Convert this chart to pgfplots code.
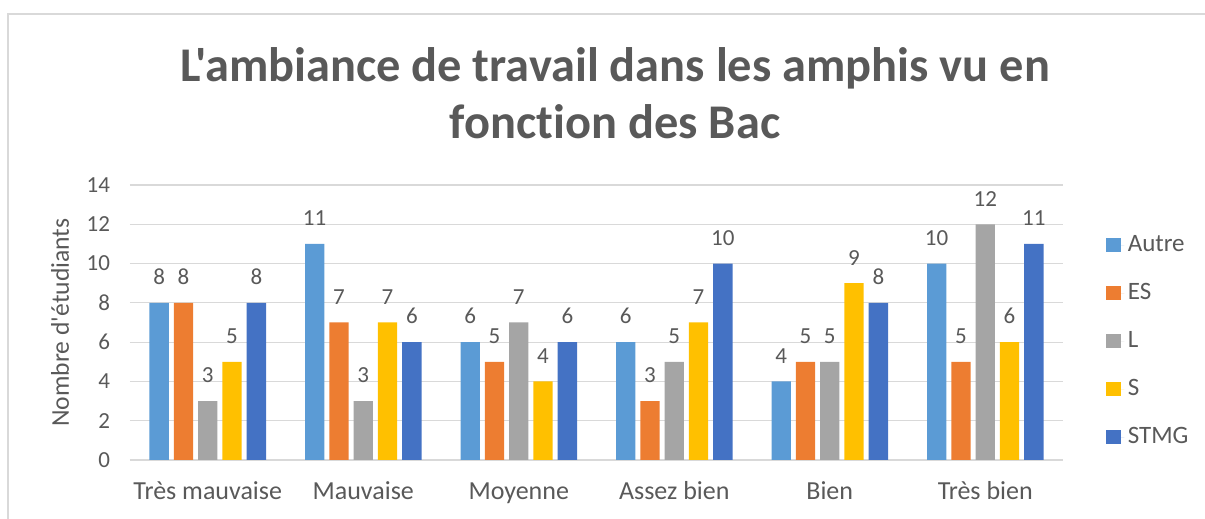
\documentclass[border=0pt]{standalone}
\usepackage{pgfplots}
\pgfplotsset{compat=1.18}
\usepackage{fontspec}
\setmainfont{Carlito}[Ligatures={TeXOff,NoCommon}]
\definecolor{txt}{HTML}{595959}
\definecolor{cAutre}{HTML}{5B9BD5}
\definecolor{cES}{HTML}{ED7D31}
\definecolor{cL}{HTML}{A5A5A5}
\definecolor{cS}{HTML}{FFC000}
\definecolor{cSTMG}{HTML}{4472C4}
\definecolor{gridc}{HTML}{D9D9D9}
\begin{document}
\begin{tikzpicture}
\useasboundingbox (-65pt,-29.5pt) rectangle (537.5pt,230pt);
\draw[gridc, line width=1pt] (-61pt,-40pt) -- (-61pt,223pt) -- (545pt,223pt);
\node[anchor=north, align=center, inner sep=0pt, text=txt, font=\fontsize{24.2}{28.5}\selectfont\bfseries] at (242.5pt,206.5pt) {L'ambiance de travail dans les amphis vu en\\fonction des Bac};
\begin{axis}[
  at={(0,0)}, anchor=south west,
  scale only axis, width=466.5pt, height=137.5pt,
  ybar=2.5pt, bar width=9.65pt,
  xmin=-0.5, xmax=5.5, ymin=0, ymax=14,
  ytick={0,2,...,14},
  xtick={0,...,5},
  xticklabels={Très mauvaise, Mauvaise, Moyenne, Assez bien, Bien, Très bien},
  major tick length=0pt,
  axis line style={draw=none},
  xmajorgrids=false, ymajorgrids=true,
  major grid style={draw=gridc, line width=0.6pt},
  /pgf/number format/assume math mode=true,
  tick label style={text=txt},
  yticklabel style={font=\fontsize{11.5}{13}\selectfont, xshift=-6.5pt},
  xticklabel style={font=\fontsize{13}{15}\selectfont, anchor=north, text height=10pt, text depth=3pt, yshift=-6.2pt},
  ylabel={Nombre d'étudiants},
  ylabel style={at={(axis description cs:-0.075,0.5)}, anchor=center, font=\fontsize{12.8}{14}\selectfont, text=txt},
  nodes near coords,
  every node near coord/.append style={font=\fontsize{11.5}{13}\selectfont, text=txt, yshift=5.5pt},
  legend style={at={(1.046,0.431)}, anchor=west, draw=none, fill=none, inner sep=0pt,
    font=\fontsize{12.5}{14}\selectfont, text=txt, row sep=8.5pt,
    nodes={inner sep=1.75pt, text height=9pt, text depth=3pt}},
  legend cell align=left,
  legend image code/.code={\fill[#1] (0pt,-3.5pt) rectangle (7.2pt,3.7pt); \path (0pt,0pt) -- (9pt,0pt);},
]
\addplot[fill=cAutre, draw=none] coordinates {(0,8) (1,11) (2,6) (3,6) (4,4) (5,10)};
\addplot[fill=cES, draw=none] coordinates {(0,8) (1,7) (2,5) (3,3) (4,5) (5,5)};
\addplot[fill=cL, draw=none] coordinates {(0,3) (1,3) (2,7) (3,5) (4,5) (5,12)};
\addplot[fill=cS, draw=none] coordinates {(0,5) (1,7) (2,4) (3,7) (4,9) (5,6)};
\addplot[fill=cSTMG, draw=none] coordinates {(0,8) (1,6) (2,6) (3,10) (4,8) (5,11)};
\legend{Autre, ES, L, S, STMG}
\end{axis}
\end{tikzpicture}
\end{document}
